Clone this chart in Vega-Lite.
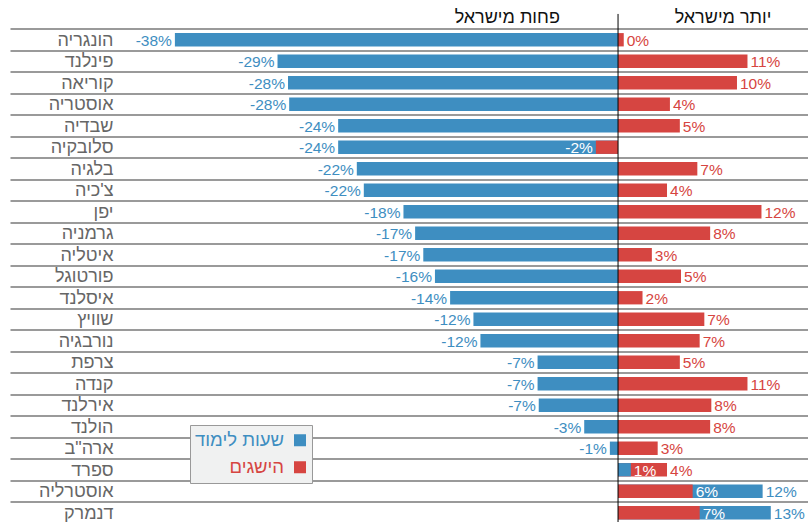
{
  "$schema": "https://vega.github.io/schema/vega-lite/v6.json",
  "autosize": "none",
  "padding": {"left": 10, "top": 7.5, "right": 0, "bottom": 0},
  "width": 798,
  "height": 516,
  "config": {"view": {"stroke": null}, "font": "Liberation Sans"},
  "data": {"values": [
    {"country": "הונגריה", "series": "שעות לימוד", "value": -38.0},
    {"country": "הונגריה", "series": "הישגים", "value": 0.49},
    {"country": "פינלנד", "series": "שעות לימוד", "value": -29.2},
    {"country": "פינלנד", "series": "הישגים", "value": 11.1},
    {"country": "קוריאה", "series": "שעות לימוד", "value": -28.3},
    {"country": "קוריאה", "series": "הישגים", "value": 10.2},
    {"country": "אוסטריה", "series": "שעות לימוד", "value": -28.2},
    {"country": "אוסטריה", "series": "הישגים", "value": 4.45},
    {"country": "שבדיה", "series": "שעות לימוד", "value": -24.0},
    {"country": "שבדיה", "series": "הישגים", "value": 5.3},
    {"country": "סלובקיה", "series": "שעות לימוד", "value": -24.0},
    {"country": "סלובקיה", "series": "הישגים", "value": -1.9},
    {"country": "בלגיה", "series": "שעות לימוד", "value": -22.4},
    {"country": "בלגיה", "series": "הישגים", "value": 6.8},
    {"country": "צ'כיה", "series": "שעות לימוד", "value": -21.8},
    {"country": "צ'כיה", "series": "הישגים", "value": 4.2},
    {"country": "יפן", "series": "שעות לימוד", "value": -18.4},
    {"country": "יפן", "series": "הישגים", "value": 12.3},
    {"country": "גרמניה", "series": "שעות לימוד", "value": -17.4},
    {"country": "גרמניה", "series": "הישגים", "value": 7.9},
    {"country": "איטליה", "series": "שעות לימוד", "value": -16.7},
    {"country": "איטליה", "series": "הישגים", "value": 2.9},
    {"country": "פורטוגל", "series": "שעות לימוד", "value": -15.7},
    {"country": "פורטוגל", "series": "הישגים", "value": 5.4},
    {"country": "איסלנד", "series": "שעות לימוד", "value": -14.4},
    {"country": "איסלנד", "series": "הישגים", "value": 2.1},
    {"country": "שוויץ", "series": "שעות לימוד", "value": -12.4},
    {"country": "שוויץ", "series": "הישגים", "value": 7.4},
    {"country": "נורבגיה", "series": "שעות לימוד", "value": -11.8},
    {"country": "נורבגיה", "series": "הישגים", "value": 7.0},
    {"country": "צרפת", "series": "שעות לימוד", "value": -6.9},
    {"country": "צרפת", "series": "הישגים", "value": 5.3},
    {"country": "קנדה", "series": "שעות לימוד", "value": -6.9},
    {"country": "קנדה", "series": "הישגים", "value": 11.1},
    {"country": "אירלנד", "series": "שעות לימוד", "value": -6.8},
    {"country": "אירלנד", "series": "הישגים", "value": 8.0},
    {"country": "הולנד", "series": "שעות לימוד", "value": -2.9},
    {"country": "הולנד", "series": "הישגים", "value": 7.9},
    {"country": "ארה\"ב", "series": "שעות לימוד", "value": -0.7},
    {"country": "ארה\"ב", "series": "הישגים", "value": 3.4},
    {"country": "ספרד", "series": "שעות לימוד", "value": 1.1},
    {"country": "ספרד", "series": "הישגים", "value": 4.2},
    {"country": "אוסטרליה", "series": "שעות לימוד", "value": 12.4},
    {"country": "אוסטרליה", "series": "הישגים", "value": 6.4},
    {"country": "דנמרק", "series": "שעות לימוד", "value": 13.1},
    {"country": "דנמרק", "series": "הישגים", "value": 7.0}
  ]},
  "layer": [
    {
      "transform": [
        {"joinaggregate": [{"op": "min", "field": "value", "as": "mn"}, {"op": "max", "field": "value", "as": "mx"}], "groupby": ["country"]},
        {"calculate": "(datum.mn > 0 || datum.mx < 0) && abs(datum.value) < max(abs(datum.mn), abs(datum.mx))", "as": "inner"},
        {"filter": "!datum.inner"}
      ],
      "mark": {"type": "bar", "height": {"band": 0.62}},
      "encoding": {
        "y": {"field": "country", "type": "nominal",
          "scale": {"domain": ["_h", "הונגריה", "פינלנד", "קוריאה", "אוסטריה", "שבדיה", "סלובקיה", "בלגיה", "צ'כיה", "יפן", "גרמניה", "איטליה", "פורטוגל", "איסלנד", "שוויץ", "נורבגיה", "צרפת", "קנדה", "אירלנד", "הולנד", "ארה\"ב", "ספרד", "אוסטרליה", "דנמרק"], "paddingInner": 0, "paddingOuter": 0},
          "axis": {"title": null, "domain": false, "ticks": false, "tickSize": 0, "labelPadding": -103, "bandPosition": 0, "labelOffset": 1,
            "labelFontSize": 18, "labelColor": "#666666", "labelFont": "Liberation Sans", "labelAlign": "right",
            "grid": true, "gridColor": "#9a9a9a", "gridWidth": 2,
            "values": ["הונגריה", "פינלנד", "קוריאה", "אוסטריה", "שבדיה", "סלובקיה", "בלגיה", "צ'כיה", "יפן", "גרמניה", "איטליה", "פורטוגל", "איסלנד", "שוויץ", "נורבגיה", "צרפת", "קנדה", "אירלנד", "הולנד", "ארה\"ב", "ספרד", "אוסטרליה", "דנמרק"]}},
        "x": {"field": "value", "type": "quantitative", "scale": {"domain": [-52.14, 16.29], "nice": false, "zero": false}, "axis": null},
        "color": {"field": "series", "type": "nominal",
          "scale": {"domain": ["שעות לימוד", "הישגים"], "range": ["#3e8ec1", "#d64541"]},
          "legend": {"orient": "none", "legendX": 180, "legendY": 417.5, "title": null, "fillColor": "#f0f1f1", "strokeColor": "#999999", "padding": 6,
            "labelFontSize": 18.5, "labelFont": "Liberation Sans", "symbolType": "square", "symbolSize": 144, "symbolStrokeWidth": 0, "rowPadding": 8,
            "encode": {
              "labels": {"update": {"fill": {"scale": "color", "field": "value"}, "align": {"value": "right"}, "x": {"value": 88}}},
              "symbols": {"update": {"x": {"value": 104}}}
            }}}
      }
    },
    {
      "transform": [
        {"joinaggregate": [{"op": "min", "field": "value", "as": "mn"}, {"op": "max", "field": "value", "as": "mx"}], "groupby": ["country"]},
        {"calculate": "(datum.mn > 0 || datum.mx < 0) && abs(datum.value) < max(abs(datum.mn), abs(datum.mx))", "as": "inner"},
        {"filter": "datum.inner"}
      ],
      "mark": {"type": "bar", "height": {"band": 0.62}},
      "encoding": {
        "y": {"field": "country", "type": "nominal"},
        "x": {"field": "value", "type": "quantitative"},
        "color": {"field": "series", "type": "nominal"}
      }
    },
    {
      "transform": [
        {"joinaggregate": [{"op": "min", "field": "value", "as": "mn"}, {"op": "max", "field": "value", "as": "mx"}], "groupby": ["country"]},
        {"calculate": "(datum.mn > 0 || datum.mx < 0) && abs(datum.value) < max(abs(datum.mn), abs(datum.mx))", "as": "inner"},
        {"calculate": "round(datum.value) + '%'", "as": "label"}
      ],
      "mark": {"type": "text", "fontSize": 15.5, "font": "Liberation Sans", "baseline": "middle", "dy": 1,
        "align": {"expr": "datum.value < 0 ? 'right' : 'left'"},
        "dx": {"expr": "datum.value < 0 ? -3 : 3"}},
      "encoding": {
        "y": {"field": "country", "type": "nominal"},
        "x": {"field": "value", "type": "quantitative"},
        "text": {"field": "label"},
        "color": {"condition": {"test": "datum.inner", "value": "#ffffff"}, "field": "series", "type": "nominal", "legend": null}
      }
    },
    {
      "data": {"values": [{}]},
      "mark": {"type": "text", "text": "פחות מישראל", "fontSize": 18, "font": "Liberation Sans", "color": "#111111", "baseline": "middle"},
      "encoding": {"x": {"datum": -9.5}, "y": {"datum": "_h", "type": "nominal"}}
    },
    {
      "data": {"values": [{}]},
      "mark": {"type": "text", "text": "יותר מישראל", "fontSize": 18, "font": "Liberation Sans", "color": "#111111", "baseline": "middle"},
      "encoding": {"x": {"datum": 9.0}, "y": {"datum": "_h", "type": "nominal"}}
    },
    {
      "data": {"values": [{}]},
      "mark": {"type": "rule", "color": "#000000", "strokeWidth": 1},
      "encoding": {"x": {"datum": 0}, "y": {"datum": "_h", "type": "nominal", "bandPosition": 0.3}, "y2": {"value": "height"}}
    }
  ]
}
